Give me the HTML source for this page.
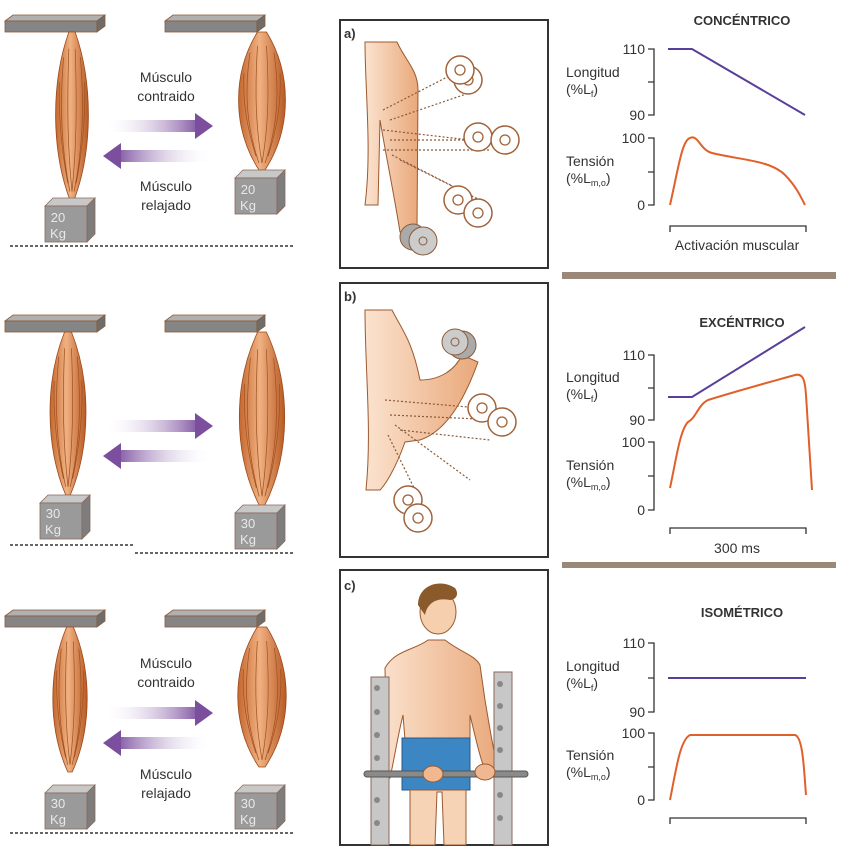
<!DOCTYPE html>
<html><head><meta charset="utf-8"><style>
html,body{margin:0;padding:0;background:#fff;}
svg{display:block;font-family:"Liberation Sans",sans-serif;}
</style></head><body>
<svg width="846" height="857" viewBox="0 0 846 857" xmlns="http://www.w3.org/2000/svg">
<defs>
<linearGradient id="mg" x1="0" x2="1"><stop offset="0" stop-color="#c4672e"/><stop offset="0.45" stop-color="#f0b182"/><stop offset="1" stop-color="#b85a24"/></linearGradient>
<linearGradient id="ar" x1="0" x2="1"><stop offset="0" stop-color="#fff" stop-opacity="0"/><stop offset="1" stop-color="#7b4f9e"/></linearGradient>
<linearGradient id="al" x1="1" x2="0"><stop offset="0" stop-color="#fff" stop-opacity="0"/><stop offset="1" stop-color="#7b4f9e"/></linearGradient>
<linearGradient id="skin" x1="0" x2="1"><stop offset="0" stop-color="#fbe3cf"/><stop offset="1" stop-color="#e9a87a"/></linearGradient>
<g id="mus">
<path d="M-3,0 C-20,30 -20,70 -2,100 L2,100 C20,70 20,30 3,0 Z" fill="url(#mg)" stroke="#9b4a1c" stroke-width="0.8" vector-effect="non-scaling-stroke"/>
<path d="M-8,15 C-12,45 -10,70 -2,95 M-3,10 C-5,45 -4,70 0,95 M3,10 C5,45 4,70 0,95 M8,15 C12,45 10,70 2,95 M-12,30 C-13,50 -10,70 -4,90 M12,30 C13,50 10,70 4,90" fill="none" stroke="#a0501f" stroke-width="0.7" vector-effect="non-scaling-stroke"/>
</g>
<g id="bar"><polygon points="0,6 8,0 100,0 92,6" fill="#b0b0b0" stroke="#8a5a3a" stroke-width="0.8"/><rect x="0" y="6" width="92" height="11" fill="#858585" stroke="#8a5a3a" stroke-width="0.8"/><polygon points="92,6 100,0 100,11 92,17" fill="#6d6d6d" stroke="#8a5a3a" stroke-width="0.8"/></g>
<g id="box"><polygon points="0,8 8,0 50,0 42,8" fill="#c8c8c8" stroke="#8a6a5a" stroke-width="0.8"/><rect x="0" y="8" width="42" height="36" fill="#9a9a9a" stroke="#8a6a5a" stroke-width="0.8"/><polygon points="42,8 50,0 50,36 42,44" fill="#7d7d7d" stroke="#8a6a5a" stroke-width="0.8"/></g>
<g id="arrows">
<rect x="0" y="-6" width="98" height="12" fill="url(#ar)"/><polygon points="92,-13 110,0 92,13" fill="#7b4f9e"/>
<rect x="12" y="24" width="98" height="12" fill="url(#al)"/><polygon points="18,17 0,30 18,43" fill="#7b4f9e"/>
</g>
<g id="db"><circle r="14" fill="#fff" stroke="#a0623a" stroke-width="1.5"/><circle r="5" fill="none" stroke="#a0623a" stroke-width="1.3"/></g>
</defs>

<!-- ROW 1 -->
<use href="#bar" x="5" y="15"/>
<use href="#bar" x="165" y="15"/>
<g transform="translate(72,32) scale(1.05,1.68)"><use href="#mus"/></g>
<g transform="translate(262,32) scale(1.5,1.38)"><use href="#mus"/></g>
<use href="#box" x="45" y="198"/><use href="#box" x="235" y="170"/>
<text x="58" y="222" font-size="13" fill="#e8e8e8" text-anchor="middle">20</text><text x="58" y="238" font-size="13" fill="#e8e8e8" text-anchor="middle">Kg</text>
<text x="248" y="194" font-size="13" fill="#e8e8e8" text-anchor="middle">20</text><text x="248" y="210" font-size="13" fill="#e8e8e8" text-anchor="middle">Kg</text>
<use href="#arrows" x="103" y="126"/>
<g font-size="14" fill="#333" text-anchor="middle"><text x="166" y="82">Músculo</text><text x="166" y="101">contraido</text><text x="166" y="191">Músculo</text><text x="166" y="210">relajado</text></g>
<line x1="10" y1="246" x2="295" y2="246" stroke="#333" stroke-width="1.5" stroke-dasharray="3,2"/>

<!-- ROW 2 -->
<use href="#bar" x="5" y="315"/><use href="#bar" x="165" y="315"/>
<g transform="translate(68,332) scale(1.15,1.63)"><use href="#mus"/></g>
<g transform="translate(262,332) scale(1.45,1.73)"><use href="#mus"/></g>
<use href="#box" x="40" y="495"/><use href="#box" x="235" y="505"/>
<text x="53" y="518" font-size="13" fill="#e8e8e8" text-anchor="middle">30</text><text x="53" y="534" font-size="13" fill="#e8e8e8" text-anchor="middle">Kg</text>
<text x="248" y="528" font-size="13" fill="#e8e8e8" text-anchor="middle">30</text><text x="248" y="544" font-size="13" fill="#e8e8e8" text-anchor="middle">Kg</text>
<use href="#arrows" x="103" y="426"/>
<line x1="10" y1="545" x2="135" y2="545" stroke="#333" stroke-width="1.5" stroke-dasharray="3,2"/>
<line x1="135" y1="553" x2="295" y2="553" stroke="#333" stroke-width="1.5" stroke-dasharray="3,2"/>

<!-- ROW 3 -->
<use href="#bar" x="5" y="610"/><use href="#bar" x="165" y="610"/>
<g transform="translate(70,627) scale(1.1,1.45)"><use href="#mus"/></g>
<g transform="translate(262,627) scale(1.55,1.4)"><use href="#mus"/></g>
<use href="#box" x="45" y="785"/><use href="#box" x="235" y="785"/>
<text x="58" y="808" font-size="13" fill="#e8e8e8" text-anchor="middle">30</text><text x="58" y="824" font-size="13" fill="#e8e8e8" text-anchor="middle">Kg</text>
<text x="248" y="808" font-size="13" fill="#e8e8e8" text-anchor="middle">30</text><text x="248" y="824" font-size="13" fill="#e8e8e8" text-anchor="middle">Kg</text>
<use href="#arrows" x="103" y="713"/>
<g font-size="14" fill="#333" text-anchor="middle"><text x="166" y="668">Músculo</text><text x="166" y="687">contraido</text><text x="166" y="779">Músculo</text><text x="166" y="798">relajado</text></g>
<line x1="10" y1="833" x2="295" y2="833" stroke="#333" stroke-width="1.5" stroke-dasharray="3,2"/>

<!-- PANEL a -->
<rect x="340" y="20" width="208" height="248" fill="#fff" stroke="#333" stroke-width="2"/>
<text x="344" y="38" font-size="13" font-weight="bold" fill="#333">a)</text>
<path d="M365,42 L397,42 C405,60 418,70 418,90 L417,230 L400,232 C395,200 385,150 380,120 L378,205 L365,205 C372,150 365,90 365,42 Z" fill="url(#skin)" stroke="#9b5a30" stroke-width="1"/>
<g fill="none" stroke="#8a5a3a" stroke-width="1.2" stroke-dasharray="2,2">
<path d="M383,110 L455,73 M390,120 L472,92 M383,130 L470,140 M390,140 L490,140 M383,150 L490,150 M392,155 L470,195 M400,160 L490,205"/>
</g>
<use href="#db" x="468" y="80"/><use href="#db" x="460" y="70"/>
<use href="#db" x="478" y="137"/><use href="#db" x="505" y="140"/>
<use href="#db" x="458" y="200"/><use href="#db" x="478" y="213"/>
<circle cx="413" cy="237" r="13" fill="#aaa" stroke="#8a5a3a"/><circle cx="423" cy="241" r="14" fill="#ccc" stroke="#8a5a3a"/><circle cx="423" cy="241" r="4" fill="none" stroke="#8a5a3a"/>

<!-- PANEL b -->
<rect x="340" y="283" width="208" height="274" fill="#fff" stroke="#333" stroke-width="2"/>
<text x="344" y="301" font-size="13" font-weight="bold" fill="#333">b)</text>
<path d="M365,310 L392,310 C402,330 412,340 420,380 C440,380 455,370 462,355 L478,362 C468,390 450,430 420,440 L405,442 C395,470 385,485 380,490 L366,490 C372,430 365,370 365,310 Z" fill="url(#skin)" stroke="#9b5a30" stroke-width="1"/>
<g fill="none" stroke="#8a5a3a" stroke-width="1.2" stroke-dasharray="2,2">
<path d="M385,400 L480,408 M390,415 L500,420 M395,425 L470,480 M388,435 L420,500 M400,430 L490,440"/>
</g>
<circle cx="462" cy="345" r="14" fill="#aaa" stroke="#8a5a3a"/><circle cx="455" cy="342" r="13" fill="#ccc" stroke="#8a5a3a"/><circle cx="455" cy="342" r="4" fill="none" stroke="#8a5a3a"/>
<use href="#db" x="482" y="408"/><use href="#db" x="502" y="422"/>
<use href="#db" x="408" y="500"/><use href="#db" x="418" y="518"/>

<!-- PANEL c -->
<rect x="340" y="570" width="208" height="275" fill="#fff" stroke="#333" stroke-width="2"/>
<text x="344" y="590" font-size="13" font-weight="bold" fill="#333">c)</text>
<path d="M385,668 C395,650 415,650 428,640 L445,640 C460,652 475,655 480,665 L485,700 C490,730 495,760 500,775 L488,778 C480,760 475,735 470,715 L470,740 L405,740 L403,715 C398,735 394,760 390,778 L378,775 C383,740 386,700 385,668 Z" fill="url(#skin)" stroke="#9b5a30" stroke-width="1"/>
<ellipse cx="438" cy="612" rx="18" ry="22" fill="#f6cfae" stroke="#9b5a30"/>
<path d="M418,605 C418,585 440,578 455,588 C460,595 455,600 450,600 C440,598 428,600 425,615 Z" fill="#8b5a2b"/>
<rect x="402" y="738" width="68" height="52" fill="#3c86c4" stroke="#2a5a8a"/>
<path d="M410,790 L410,845 L435,845 L437,792 L442,792 L444,845 L466,845 L466,790 Z" fill="#f6d3b5" stroke="#9b5a30"/>
<rect x="371" y="677" width="18" height="168" fill="#c7c7c7" stroke="#8a6a5a"/>
<rect x="494" y="672" width="18" height="173" fill="#c7c7c7" stroke="#8a6a5a"/>
<g fill="#888"><circle cx="377" cy="688" r="3"/><circle cx="377" cy="712" r="3"/><circle cx="377" cy="735" r="3"/><circle cx="377" cy="758" r="3"/><circle cx="377" cy="800" r="3"/><circle cx="377" cy="823" r="3"/>
<circle cx="500" cy="684" r="3"/><circle cx="500" cy="706" r="3"/><circle cx="500" cy="728" r="3"/><circle cx="500" cy="750" r="3"/><circle cx="500" cy="795" r="3"/><circle cx="500" cy="818" r="3"/></g>
<rect x="364" y="771" width="164" height="6" rx="3" fill="#8a8a8a" stroke="#555"/>
<ellipse cx="433" cy="774" rx="10" ry="8" fill="#f0b890" stroke="#9b5a30"/><ellipse cx="485" cy="772" rx="10" ry="8" fill="#f0b890" stroke="#9b5a30"/>

<!-- GRAPHS -->
<g font-size="14" fill="#333">
<text x="742" y="25" font-weight="bold" text-anchor="middle" font-size="13">CONCÉNTRICO</text>
<text x="645" y="54" text-anchor="end">110</text><text x="645" y="120" text-anchor="end">90</text>
<text x="566" y="77">Longitud</text><text x="566" y="94">(%L<tspan font-size="9" dy="3">f</tspan><tspan dy="-3">)</tspan></text>
<text x="645" y="143" text-anchor="end">100</text><text x="645" y="210" text-anchor="end">0</text>
<text x="566" y="166">Tensión</text><text x="566" y="183">(%L<tspan font-size="9" dy="3">m,o</tspan><tspan dy="-3">)</tspan></text>
<text x="737" y="250" text-anchor="middle">Activación muscular</text>

<text x="742" y="327" font-weight="bold" text-anchor="middle" font-size="13">EXCÉNTRICO</text>
<text x="645" y="360" text-anchor="end">110</text><text x="645" y="425" text-anchor="end">90</text>
<text x="566" y="382">Longitud</text><text x="566" y="399">(%L<tspan font-size="9" dy="3">f</tspan><tspan dy="-3">)</tspan></text>
<text x="645" y="447" text-anchor="end">100</text><text x="645" y="515" text-anchor="end">0</text>
<text x="566" y="470">Tensión</text><text x="566" y="487">(%L<tspan font-size="9" dy="3">m,o</tspan><tspan dy="-3">)</tspan></text>
<text x="737" y="553" text-anchor="middle">300 ms</text>

<text x="742" y="617" font-weight="bold" text-anchor="middle" font-size="13">ISOMÉTRICO</text>
<text x="645" y="648" text-anchor="end">110</text><text x="645" y="717" text-anchor="end">90</text>
<text x="566" y="671">Longitud</text><text x="566" y="688">(%L<tspan font-size="9" dy="3">f</tspan><tspan dy="-3">)</tspan></text>
<text x="645" y="738" text-anchor="end">100</text><text x="645" y="805" text-anchor="end">0</text>
<text x="566" y="760">Tensión</text><text x="566" y="777">(%L<tspan font-size="9" dy="3">m,o</tspan><tspan dy="-3">)</tspan></text>
</g>
<g fill="none" stroke="#333" stroke-width="1.3">
<path d="M648,49 H654 V115 H648 M648,82 H654"/><path d="M648,138 H654 V205 H648 M648,172 H654"/>
<path d="M670,232 V226 H806 V232"/>
<path d="M648,355 H654 V420 H648 M648,388 H654"/><path d="M648,442 H654 V510 H648 M648,476 H654"/>
<path d="M670,534 V528 H806 V534"/>
<path d="M648,643 H654 V712 H648 M648,678 H654"/><path d="M648,733 H654 V800 H648 M648,767 H654"/>
<path d="M670,824 V818 H806 V824"/>
</g>
<g fill="none" stroke-width="2">
<path d="M668,49 H692 L805,115" stroke="#5a3f9a"/>
<path d="M670,205 C678,170 682,140 690,138 C698,134 700,150 712,153 C740,160 770,160 785,175 C795,185 800,195 805,205" stroke="#e0602a"/>
<path d="M668,397 H692 L805,327" stroke="#5a3f9a"/>
<path d="M670,488 C676,460 680,430 688,422 C696,418 698,405 708,400 C740,390 770,382 795,375 C803,373 805,380 806,395 L812,490" stroke="#e0602a"/>
<path d="M668,678 H806" stroke="#5a3f9a"/>
<path d="M670,800 C676,770 680,740 690,735 H795 C803,737 804,770 806,795" stroke="#e0602a"/>
</g>
<rect x="562" y="272" width="274" height="7" fill="#9a8878"/>
<rect x="562" y="562" width="274" height="6" fill="#9a8878"/>
</svg>
</body></html>
